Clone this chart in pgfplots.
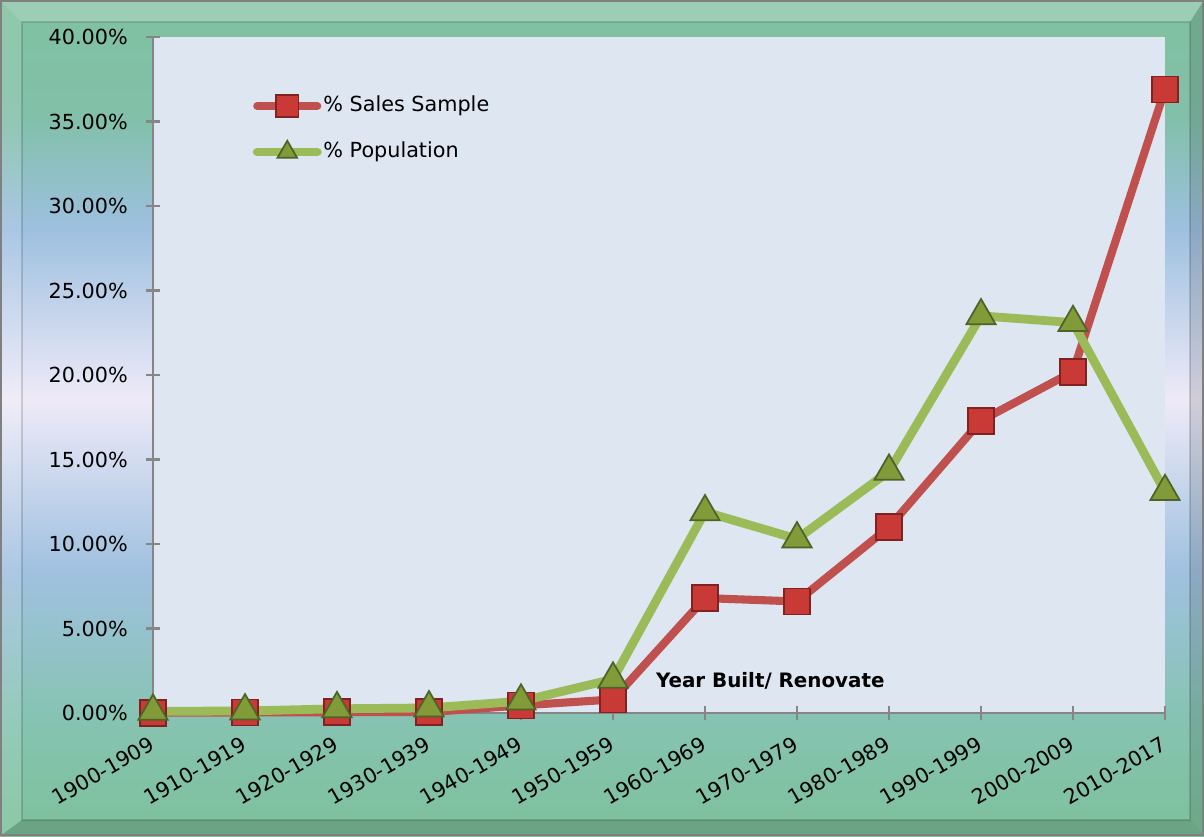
\documentclass[border=0pt]{standalone}
\usepackage{fontspec}
\setmainfont{DejaVu Sans}
\usepackage{pgfplots}
\pgfplotsset{compat=1.18}
\definecolor{bgA}{HTML}{80C19F}
\definecolor{bgB}{HTML}{82C0AA}
\definecolor{bgC}{HTML}{9EC0E0}
\definecolor{bgD}{HTML}{EEEAF8}
\definecolor{bgE}{HTML}{A0C1E0}
\definecolor{bgF}{HTML}{86C3B2}
\definecolor{bgG}{HTML}{7DC19A}
\definecolor{plotbg}{HTML}{DDE6F1}
\definecolor{redline}{HTML}{C0504D}
\definecolor{redmark}{HTML}{C93A36}
\definecolor{reddark}{HTML}{7F2220}
\definecolor{greenline}{HTML}{9BBB59}
\definecolor{greenmark}{HTML}{809B38}
\definecolor{greendark}{HTML}{4F6228}
\definecolor{axgray}{HTML}{868686}
\begin{document}
\begin{tikzpicture}
\useasboundingbox (0,0) rectangle (12.04,8.36);
% background bands
\shade[top color=bgA,bottom color=bgB] (0,8.36) rectangle (12.04,7.16);
\shade[top color=bgB,bottom color=bgC] (0,7.17) rectangle (12.04,6.06);
\shade[top color=bgC,bottom color=bgD] (0,6.07) rectangle (12.04,4.36);
\shade[top color=bgD,bottom color=bgE] (0,4.37) rectangle (12.04,2.66);
\shade[top color=bgE,bottom color=bgF] (0,2.67) rectangle (12.04,1.16);
\shade[top color=bgF,bottom color=bgG] (0,1.17) rectangle (12.04,0);
% bevel
\fill[white,opacity=0.22] (0,8.36)--(12.04,8.36)--(11.90,8.14)--(0.22,8.14)--cycle;
\fill[white,opacity=0.12] (0,0)--(0,8.36)--(0.22,8.14)--(0.22,0.16)--cycle;
\fill[black,opacity=0.15] (0,0)--(12.04,0)--(11.90,0.16)--(0.22,0.16)--cycle;
\fill[black,opacity=0.12] (12.04,0)--(12.04,8.36)--(11.90,8.14)--(11.90,0.16)--cycle;
\draw[black,opacity=0.15,line width=0.015cm] (0.22,0.16) rectangle (11.90,8.14);
\draw[gray,line width=0.02cm] (0.01,0.01) rectangle (12.03,8.35);
\begin{axis}[
  at={(1.53cm,1.23cm)}, anchor=south west,
  scale only axis, width=10.12cm, height=6.76cm,
  xmin=0, xmax=11, ymin=0, ymax=40,
  clip=false,
  axis x line*=bottom, axis y line*=left,
  axis line style={axgray, line width=0.8pt, -},
  axis background/.style={fill=plotbg},
  tick align=center, major tick length=0.14cm,
  tick style={axgray, line width=0.8pt},
  xtick={0,...,11},
  xticklabels={1900-1909,1910-1919,1920-1929,1930-1939,1940-1949,1950-1959,1960-1969,1970-1979,1980-1989,1990-1999,2000-2009,2010-2017},
  ytick={0,5,...,40},
  yticklabels={0.00\%,5.00\%,10.00\%,15.00\%,20.00\%,25.00\%,30.00\%,35.00\%,40.00\%},
  ticklabel style={font=\fontsize{5.9}{7}\selectfont},
  xticklabel style={rotate=30, anchor=north east, inner sep=1pt, yshift=-0.07cm, xshift=-0.08cm},
  yticklabel style={anchor=east, inner sep=1pt, xshift=-0.14cm},
  legend style={draw=none, fill=none, at={(0.098,0.925)}, anchor=north west,
    font=\fontsize{5.9}{7}\selectfont, row sep=0.11cm, inner sep=0pt,
    nodes={inner xsep=0.5pt},
    legend cell align=left},
  legend image code/.code={
    \draw[#1, mark repeat=2, mark phase=2, mark size=3.2pt] plot coordinates {(0cm,0cm) (0.3cm,0cm) (0.6cm,0cm)};},
]
\addplot[redline, line width=2.3pt, line cap=round, mark=square*, mark size=3.7pt,
  mark options={fill=redmark, draw=reddark, line width=0.5pt}]
  coordinates {(0,0.02) (1,0.03) (2,0.05) (3,0.05) (4,0.45) (5,0.8) (6,6.8) (7,6.6) (8,11.0) (9,17.3) (10,20.2) (11,36.9)};
\addlegendentry{\% Sales Sample}
\addplot[greenline, line width=2.5pt, line cap=round, mark=triangle*, mark size=4.8pt,
  mark options={fill=greenmark, draw=greendark, line width=0.5pt}]
  coordinates {(0,0.1) (1,0.12) (2,0.25) (3,0.3) (4,0.7) (5,2.0) (6,11.9) (7,10.3) (8,14.3) (9,23.5) (10,23.1) (11,13.1)};
\addlegendentry{\% Population}
\node[anchor=west, font=\bfseries\fontsize{5.65}{6}\selectfont, inner sep=0pt] at (axis cs:5.46,1.9) {Year Built/ Renovate};
\end{axis}
\end{tikzpicture}
\end{document}
